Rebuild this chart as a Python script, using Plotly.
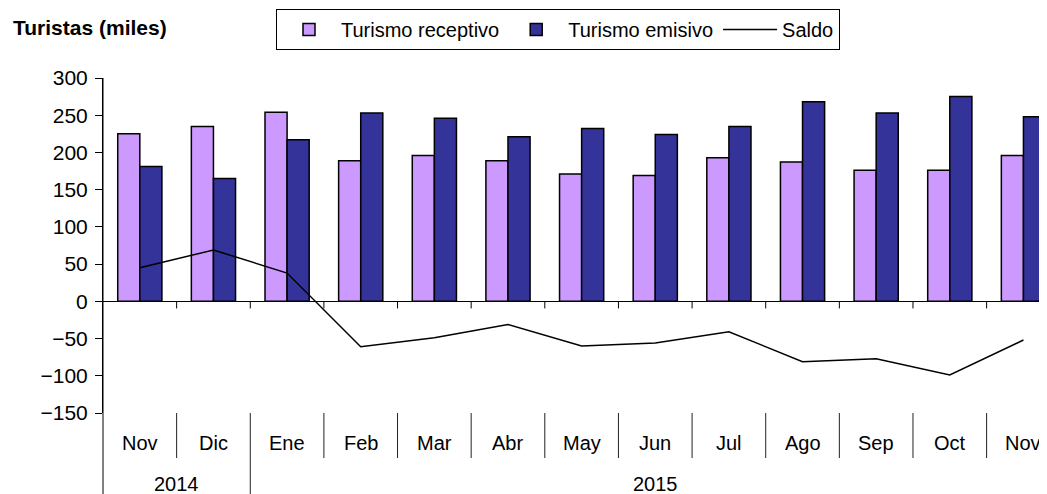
import plotly.graph_objects as go

months = ["Nov", "Dic", "Ene", "Feb", "Mar", "Abr", "May", "Jun", "Jul", "Ago", "Sep", "Oct", "Nov"]
years = ["2014", "2015"]
year_spans = [(0, 1), (2, 12)]
receptivo = [225, 235, 254, 189, 196, 189, 171, 169, 193, 187, 176, 176, 196]
emisivo = [181, 165, 217, 253, 246, 221, 232, 224, 235, 268, 253, 275, 248]
saldo = [45, 69, 38, -61, -49, -31, -60, -56, -41, -81, -77, -99, -52]

x = list(range(len(months)))
FONT = "Liberation Sans, Arial, sans-serif"

fig = go.Figure()
fig.add_trace(go.Bar(x=x, y=receptivo, name="Turismo receptivo",
                     marker=dict(color="#CC99FF", line=dict(color="black", width=1.5))))
fig.add_trace(go.Bar(x=x, y=emisivo, name="Turismo emisivo",
                     marker=dict(color="#333399", line=dict(color="black", width=1.5))))
fig.add_trace(go.Scatter(x=x, y=saldo, name="Saldo", mode="lines",
                         line=dict(color="black", width=1.5)))

# page has an 8px body margin; figure coordinates = page coordinates - 8
OFF = 8
W, H = 1047 - OFF, 494 - OFF
L = 103 - OFF
T = 78 - OFF
PLOT_BOTTOM = 413 - OFF
B = H - PLOT_BOTTOM
plot_h = PLOT_BOTTOM - T
plot_w = W - L

def py(p):  # page y pixel -> paper y
    return (PLOT_BOTTOM - (p - OFF)) / plot_h

def px(p):  # page x pixel -> paper x
    return ((p - OFF) - L) / plot_w

shapes = []
shapes.append(dict(type="line", xref="paper", yref="paper", x0=0, x1=0, y0=1, y1=py(505),
                   line=dict(color="black", width=1)))
n = len(months)
for k in range(n - 1):
    xb = k + 0.5
    shapes.append(dict(type="line", xref="x", yref="y", x0=xb, x1=xb, y0=0, y1=-9.5,
                       line=dict(color="black", width=1)))
    is_year = any(xb == s[1] + 0.5 for s in year_spans[:-1])
    shapes.append(dict(type="line", xref="x", yref="paper", x0=xb, x1=xb, y0=0,
                       y1=py(505) if is_year else py(458),
                       line=dict(color="#222222", width=1)))

annotations = []
for i, m in enumerate(months):
    annotations.append(dict(x=i, y=py(443), xref="x", yref="paper", text=m, showarrow=False,
                            font=dict(family=FONT, size=20, color="black"),
                            xanchor="center", yanchor="middle"))
for yl, (a, b) in zip(years, year_spans):
    annotations.append(dict(x=(a + b) / 2, y=py(484), xref="x", yref="paper", text=yl, showarrow=False,
                            font=dict(family=FONT, size=20, color="black"),
                            xanchor="center", yanchor="middle"))
annotations.append(dict(x=px(11), y=py(27), xref="paper", yref="paper", text="<b>Turistas (miles)</b>",
                        showarrow=False, xanchor="left", yanchor="middle",
                        font=dict(family=FONT, size=21, color="black")))

fig.update_layout(
    width=W, height=H,
    margin=dict(l=L, r=0, t=T, b=B, pad=0),
    paper_bgcolor="white", plot_bgcolor="white",
    barmode="group", bargap=0.4, bargroupgap=0,
    font=dict(family=FONT, size=20, color="black"),
    showlegend=True,
    legend=dict(orientation="h", x=px(276), y=py(9), xanchor="left", yanchor="top",
                bordercolor="black", borderwidth=1, bgcolor="white",
                font=dict(size=20, family=FONT),
                itemwidth=54, tracegroupgap=0),
    xaxis=dict(range=[-0.5, 12.32], showticklabels=False, showgrid=False, zeroline=False,
               showline=False, ticks=""),
    yaxis=dict(range=[-150, 300], tickvals=[-150, -100, -50, 0, 50, 100, 150, 200, 250, 300],
               showgrid=False, zeroline=True, zerolinecolor="black", zerolinewidth=1,
               showline=True, linecolor="black", linewidth=1, ticks="outside", ticklen=7,
               tickcolor="black", tickfont=dict(size=21), ticklabelstandoff=3),
    shapes=shapes, annotations=annotations,
)

fig.write_html("out.html")
